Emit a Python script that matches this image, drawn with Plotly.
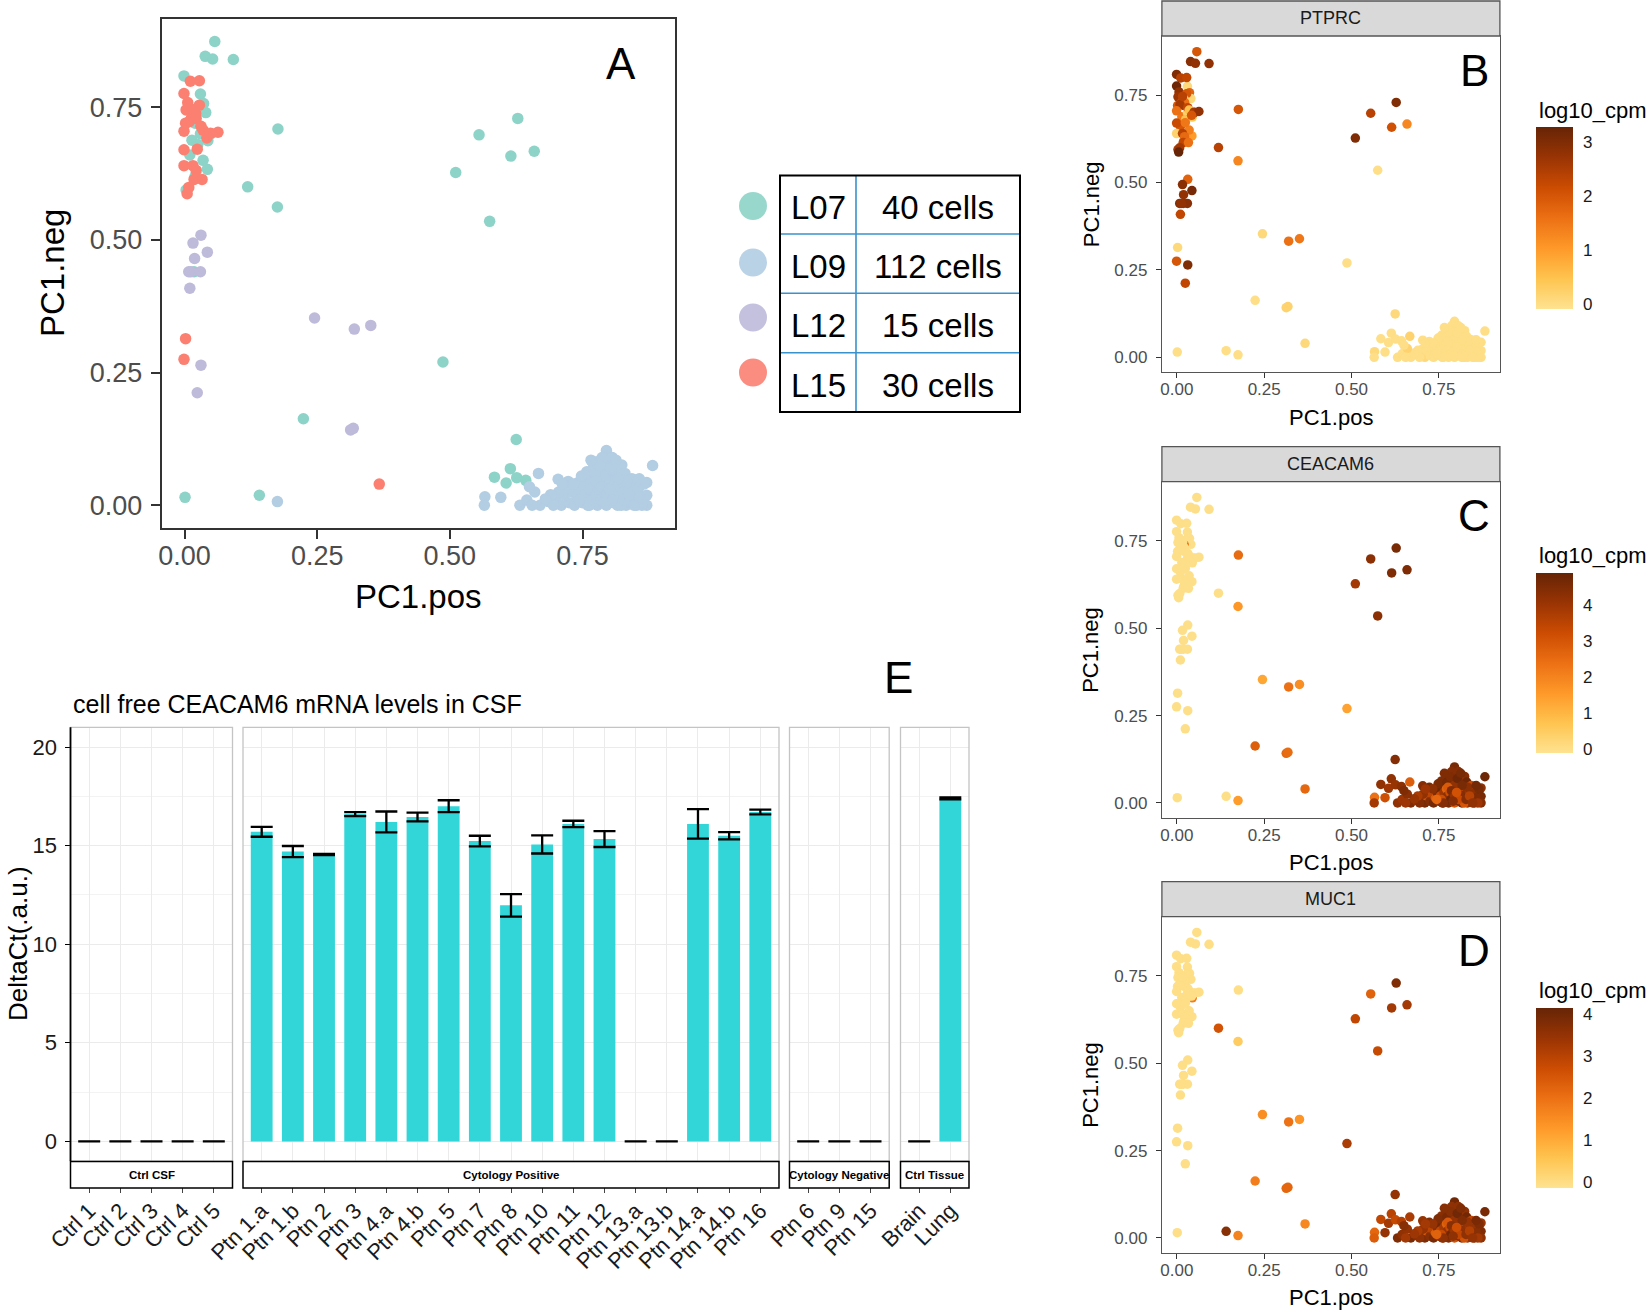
import plotly.graph_objects as go

W, H = 1648, 1310
def X(px): return px / W
def Y(py): return 1 - py / H

FONT = "Liberation Sans, Arial, Helvetica, sans-serif"

# ---------------- data: single cells (PC1.pos, PC1.neg, log10_cpm per gene) ----------------
L07_pos = [0.057, 0.039, 0.053, 0.092, -0.001, 0.030, 0.036, 0.176, 0.014, 0.044,
           0.043, 0.003, 0.119, 0.175, 0.628, 0.555, 0.615, 0.659, 0.511, 0.575,
           0.018, 0.487, 0.224, 0.625, 0.614, 0.584, 0.606, 0.626, 0.643, 0.001,
           0.141, 0.020, 0.030, 0.010, 0.040, 0.020, 0.050, 0.025, 0.035, 0.015]
L07_neg = [0.874, 0.846, 0.841, 0.840, 0.809, 0.775, 0.757, 0.709, 0.688, 0.687,
           0.633, 0.594, 0.600, 0.562, 0.729, 0.698, 0.658, 0.667, 0.627, 0.535,
           0.440, 0.270, 0.163, 0.124, 0.069, 0.053, 0.042, 0.052, 0.047, 0.015,
           0.019, 0.720, 0.700, 0.660, 0.740, 0.620, 0.700, 0.680, 0.650, 0.730]
L07_ptprc = [2.0, 2.9, 2.8, 2.8, 3.0, 0.1, 1.8, 2.0, 1.5, 0.4,
             1.0, 2.5, 2.4, 1.3, 3.0, 2.4, 2.1, 1.3, 3.0, 0.0,
             2.8, 0.0, 0.0, 0.1, 0.0, 0.0, 0.0, 0.0, 0.0, 0.0,
             0.0, 2.5, 0.2, 2.0, 0.1, 1.2, 2.6, 0.5, 1.4, 2.2]
L07_ceacam6 = [0, 0, 0, 0, 0, 0, 0, 2.5, 0, 0,
               0, 0, 0, 1.6, 4.6, 4.3, 4.5, 4.5, 3.9, 4.3,
               0, 1.4, 2.8, 4.4, 4.2, 4.2, 4.0, 4.1, 4.3, 0,
               0, 0, 0, 0, 0, 0, 0, 0, 0, 0]
L07_muc1 = [0, 0, 0, 0, 0, 0, 0, 0, 0, 1.8,
            0, 0, 2.6, 0.4, 3.8, 2.3, 3.3, 3.3, 2.9, 2.8,
            0, 3.2, 1.8, 3.5, 3.0, 2.9, 3.3, 2.8, 3.1, 0,
            3.7, 0, 0, 0, 0, 0, 0, 0, 0, 0]

L09_pos = [0.566, 0.565, 0.596, 0.632, 0.645, 0.667, 0.670, 0.686, 0.704, 0.723,
           0.742, 0.758, 0.777, 0.795, 0.808, 0.824, 0.882, 0.871, 0.852, 0.839,
           0.871, 0.871, 0.852, 0.700, 0.710, 0.715, 0.725, 0.730, 0.735, 0.740,
           0.745, 0.750, 0.752, 0.755, 0.760, 0.762, 0.765, 0.768, 0.770, 0.772,
           0.775, 0.778, 0.780, 0.782, 0.785, 0.787, 0.788, 0.790, 0.792, 0.795,
           0.797, 0.798, 0.800, 0.802, 0.805, 0.806, 0.808, 0.810, 0.812, 0.814,
           0.816, 0.818, 0.820, 0.822, 0.825, 0.827, 0.830, 0.832, 0.835, 0.837,
           0.840, 0.843, 0.845, 0.848, 0.855, 0.858, 0.862, 0.865, 0.720, 0.705,
           0.695, 0.690, 0.680, 0.660, 0.650, 0.655, 0.748, 0.757, 0.763, 0.773,
           0.783, 0.793, 0.803, 0.813, 0.823, 0.833, 0.776, 0.786, 0.796, 0.806,
           0.817, 0.828, 0.838, 0.847, 0.857, 0.766, 0.744, 0.733, 0.712, 0.791,
           0.801, 0.175]
L09_neg = [0.016, 0.000, 0.015, 0.000, 0.010, 0.060, 0.000, 0.007, 0.049, 0.045,
           0.043, 0.063, 0.082, 0.103, 0.082, 0.076, 0.075, 0.043, 0.048, 0.038,
           0.019, 0.000, 0.000, 0.010, 0.000, 0.020, 0.005, 0.025, 0.000, 0.015,
           0.030, 0.005, 0.040, 0.020, 0.000, 0.050, 0.030, 0.010, 0.070, 0.040,
           0.020, 0.000, 0.055, 0.030, 0.010, 0.090, 0.045, 0.065, 0.025, 0.000,
           0.075, 0.040, 0.015, 0.055, 0.030, 0.090, 0.005, 0.045, 0.065, 0.020,
           0.000, 0.035, 0.055, 0.010, 0.045, 0.025, 0.060, 0.000, 0.015, 0.035,
           0.005, 0.050, 0.025, 0.010, 0.030, 0.015, 0.000, 0.040, 0.030, 0.025,
           0.000, 0.020, 0.012, 0.025, 0.035, 0.000, 0.055, 0.010, 0.000, 0.060,
           0.075, 0.050, 0.070, 0.085, 0.000, 0.045, 0.045, 0.035, 0.020, 0.010,
           0.050, 0.010, 0.020, 0.000, 0.050, 0.085, 0.010, 0.040, 0.040, 0.005,
           0.030, 0.007]
L09_ptprc = [0.1, 0, 0, 0, 0, 0.2, 0, 0, 0, 0,
             0, 0, 0, 0, 0, 0, 0, 0, 0, 0,
             0, 0, 0, 0, 0.1, 0, 0, 0, 0, 0,
             0, 0, 0, 0, 0, 0, 0, 0, 0, 0,
             0, 0, 0, 0, 0, 0, 0, 0, 0, 0,
             0, 0, 0, 0, 0, 0, 0, 0, 0, 0,
             0, 0, 0, 0, 0, 0, 0, 0, 0, 0,
             0, 0, 0, 0, 0, 0, 0, 0, 0, 0,
             0, 0, 0, 0.2, 0, 0, 0, 0, 0, 0,
             0, 0, 0, 0, 0, 0, 0, 0, 0, 0,
             0, 0, 0, 0, 0, 0, 0, 0, 0, 0,
             0, 0]
L09_ceacam6 = [2.4, 3.9, 3.2, 4.2, 4.0, 2.8, 4.5, 4.1, 4.4, 4.6,
               3.0, 4.5, 4.7, 4.6, 4.3, 4.4, 4.8, 4.2, 4.5, 3.1,
               4.6, 4.4, 4.7, 4.3, 4.6, 3.0, 4.4, 4.1, 4.7, 2.9,
               4.5, 4.2, 4.8, 3.3, 4.4, 4.6, 4.0, 4.7, 4.5, 2.7,
               4.3, 4.6, 4.1, 3.2, 4.8, 4.4, 4.2, 4.6, 4.5, 3.0,
               4.3, 4.7, 4.1, 4.5, 2.8, 4.4, 4.6, 3.4, 4.2, 4.7,
               4.5, 4.0, 4.3, 4.6, 3.1, 4.4, 4.8, 4.2, 4.5, 4.1,
               4.6, 3.3, 4.4, 4.7, 4.3, 4.5, 4.0, 4.6, 3.5, 4.2,
               4.4, 3.8, 4.1, 4.3, 4.5, 4.0, 4.6, 3.2, 4.4, 4.7,
               4.5, 4.2, 4.8, 4.6, 3.0, 4.3, 2.9, 4.5, 4.1, 3.3,
               4.6, 4.4, 3.6, 4.2, 4.7, 4.5, 2.6, 4.3, 4.0, 4.4,
               3.1, 1.5]
L09_muc1 = [2.2, 2.4, 3.5, 3.8, 3.6, 3.2, 3.9, 3.7, 3.5, 3.8,
            2.6, 3.6, 3.9, 4.0, 3.7, 3.6, 3.9, 3.4, 3.8, 2.7,
            3.8, 3.6, 3.9, 3.5, 3.8, 2.5, 3.7, 3.4, 3.9, 2.4,
            3.7, 3.5, 4.0, 2.9, 3.6, 3.8, 3.3, 3.9, 3.7, 2.3,
            3.5, 3.8, 3.4, 2.8, 4.0, 3.6, 3.5, 3.8, 3.7, 2.6,
            3.6, 3.9, 3.4, 3.7, 2.4, 3.6, 3.8, 3.0, 3.5, 3.9,
            3.7, 3.3, 3.6, 3.8, 2.7, 3.6, 4.0, 3.4, 3.7, 3.4,
            3.8, 2.9, 3.6, 3.9, 3.5, 3.7, 3.3, 3.8, 3.0, 3.5,
            3.6, 3.2, 3.4, 3.5, 3.7, 3.3, 3.8, 2.8, 3.6, 3.9,
            3.7, 3.5, 4.0, 3.8, 2.6, 3.5, 2.5, 3.7, 3.4, 2.9,
            3.8, 3.6, 3.1, 3.5, 3.9, 3.7, 2.3, 3.5, 3.3, 3.6,
            2.7, 1.7]

L12_pos = [0.031, 0.016, 0.043, 0.019, 0.008, 0.030, 0.010, 0.245, 0.320, 0.351,
           0.031, 0.024, 0.313, 0.318, 0.012]
L12_neg = [0.509, 0.494, 0.477, 0.465, 0.440, 0.440, 0.409, 0.353, 0.332, 0.339,
           0.264, 0.212, 0.142, 0.145, 0.440]
L12_ptprc = [1.8, 2.9, 3.1, 2.8, 3.0, 2.9, 2.3, 0.1, 1.6, 1.5, 3.0, 2.3, 0.2, 0.2, 2.8]
L12_ceacam6 = [0, 0, 0, 0, 0, 0, 0, 1.3, 2.4, 1.8, 0, 0, 2.6, 2.5, 0]
L12_muc1 = [0, 0, 0, 0, 0, 0, 0, 1.5, 2.0, 1.4, 0, 0, 2.2, 2.2, 0]

L15_pos = [0.011, 0.028, -0.001, 0.006, 0.028, 0.003, 0.021, 0.013, 0.002, 0.022,
           0.009, 0.031, -0.001, 0.035, 0.049, 0.063, 0.042, -0.001, 0.024, -0.001,
           0.016, 0.022, 0.018, 0.033, 0.008, 0.005, 0.002, -0.001, 0.367, 0.016]
L15_neg = [0.799, 0.800, 0.776, 0.759, 0.754, 0.745, 0.738, 0.729, 0.720, 0.729,
           0.723, 0.714, 0.705, 0.707, 0.701, 0.703, 0.692, 0.670, 0.671, 0.640,
           0.640, 0.631, 0.614, 0.614, 0.599, 0.587, 0.314, 0.275, 0.040, 0.746]
L15_ptprc = [2.4, 2.3, 3.2, 2.8, 2.0, 2.7, 0.3, 2.2, 2.0, 1.6,
             2.6, 2.3, 1.6, 0.5, 2.6, 2.8, 2.0, 2.2, 1.5, 0.2,
             2.4, 1.7, 2.3, 1.6, 2.6, 3.3, 0.1, 2.0, 0.1, 2.4]
L15_ceacam6 = [0, 0, 0, 0, 0, 0, 2.3, 0, 0, 0,
               0, 0, 0, 0, 0, 0, 0, 0, 0, 0,
               0, 0, 0, 0, 0, 0, 0, 0, 2.6, 0]
L15_muc1 = [0, 0, 0, 0, 0, 0, 0, 0, 0, 0,
            0, 0, 0, 0, 0, 0, 0, 0, 0, 0,
            0, 0, 0, 0, 0, 0, 0, 0, 1.6, 0]

samples = ["L07", "L09", "L12", "L15"]
sample_cells = ["40 cells", "112 cells", "15 cells", "30 cells"]
sample_colors = ["#8DD3C7", "#B3CDE3", "#BEBADA", "#FB8072"]

genes = ["PTPRC", "CEACAM6", "MUC1"]
gene_letters = ["B", "C", "D"]
gene_cmin = [-0.09, -0.10, -0.12]
gene_cmax = [3.29, 4.91, 4.16]
gene_ticks = [[0, 1, 2, 3], [0, 1, 2, 3, 4], [0, 1, 2, 3, 4]]

# ---------------- data: panel E (qPCR) ----------------
facets = ["Ctrl CSF", "Cytology Positive", "Cytology Negative", "Ctrl Tissue"]
ctrl_csf = ["Ctrl 1", "Ctrl 2", "Ctrl 3", "Ctrl 4", "Ctrl 5"]
ctrl_csf_val = [0, 0, 0, 0, 0]
ctrl_csf_err = [0, 0, 0, 0, 0]
cyto_pos = ["Ptn 1.a", "Ptn 1.b", "Ptn 2", "Ptn 3", "Ptn 4.a", "Ptn 4.b", "Ptn 5", "Ptn 7",
            "Ptn 8", "Ptn 10", "Ptn 11", "Ptn 12", "Ptn 13.a", "Ptn 13.b", "Ptn 14.a",
            "Ptn 14.b", "Ptn 16"]
cyto_pos_val = [15.7, 14.7, 14.55, 16.6, 16.2, 16.45, 17.0, 15.23, 11.97, 15.06,
                16.1, 15.33, 0, 0, 16.1, 15.5, 16.7]
cyto_pos_err = [0.25, 0.28, 0.03, 0.1, 0.53, 0.22, 0.3, 0.27, 0.57, 0.46,
                0.16, 0.4, 0, 0, 0.75, 0.18, 0.12]
cyto_neg = ["Ptn 6", "Ptn 9", "Ptn 15"]
cyto_neg_val = [0, 0, 0]
cyto_neg_err = [0, 0, 0]
ctrl_tissue = ["Brain", "Lung"]
ctrl_tissue_val = [0, 17.4]
ctrl_tissue_err = [0, 0.05]

# ---------------- figure ----------------
fig = go.Figure()
shapes, anns = [], []

def ann(text, x, y, size, color="#000000", xanchor="center", yanchor="middle", angle=0):
    anns.append(dict(text=text, x=X(x), y=Y(y), xref="paper", yref="paper", showarrow=False,
                     xanchor=xanchor, yanchor=yanchor, textangle=angle,
                     font=dict(size=size, color=color, family=FONT)))

def rect(x0, y0, x1, y1, line="#000", lw=1, fill="rgba(0,0,0,0)", layer="above"):
    shapes.append(dict(type="rect", xref="paper", yref="paper", x0=X(x0), x1=X(x1),
                       y0=Y(y1), y1=Y(y0), line=dict(color=line, width=lw),
                       fillcolor=fill, layer=layer))

def hline(x0, x1, y, color, lw):
    shapes.append(dict(type="line", xref="paper", yref="paper", x0=X(x0), x1=X(x1),
                       y0=Y(y), y1=Y(y), line=dict(color=color, width=lw), layer="above"))

def vline(x, y0, y1, color, lw):
    shapes.append(dict(type="line", xref="paper", yref="paper", x0=X(x), x1=X(x),
                       y0=Y(y0), y1=Y(y1), line=dict(color=color, width=lw), layer="above"))

all_pos = [L07_pos, L09_pos, L12_pos, L15_pos]
all_neg = [L07_neg, L09_neg, L12_neg, L15_neg]
gene_vals = {
    "PTPRC": L07_ptprc + L09_ptprc + L12_ptprc + L15_ptprc,
    "CEACAM6": L07_ceacam6 + L09_ceacam6 + L12_ceacam6 + L15_ceacam6,
    "MUC1": L07_muc1 + L09_muc1 + L12_muc1 + L15_muc1,
}
cat_pos = L07_pos + L09_pos + L12_pos + L15_pos
cat_neg = L07_neg + L09_neg + L12_neg + L15_neg

# Panel A
for s, c, px_, py_ in zip(samples, sample_colors, all_pos, all_neg):
    fig.add_trace(go.Scatter(x=px_, y=py_, mode="markers", name=s,
                             marker=dict(size=11.5, color=c, line=dict(width=0)),
                             xaxis="x", yaxis="y", hoverinfo="skip"))

# Panels B-D
ylscale = [
    [0.0, "#FEE391"], [0.167, "#FEC44F"], [0.333, "#FE9929"], [0.5, "#EC7014"],
    [0.667, "#CC4C02"], [0.833, "#993404"], [1.0, "#662506"]]
bd_plot = [(36.0, 372.3), (481.7, 818.0), (916.7, 1253.0)]
bd_strip = [(1.0, 36.0), (446.7, 481.7), (881.7, 916.7)]
bd_cbar = [(126.7, 308.3), (572.3, 752.7), (1007.3, 1187.7)]
bd_cbtitle = [110, 555.6, 990.6]
bd_letter = [70.5, 515, 950]
BX0, BX1 = 1161.9, 1499.9
CB_X0, CB_W = 1536.2, 36.5
for i, g in enumerate(genes):
    cb0, cb1 = bd_cbar[i]
    fig.add_trace(go.Scatter(
        x=cat_pos, y=cat_neg, mode="markers", name=g,
        xaxis="x%d" % (i + 2), yaxis="y%d" % (i + 2), hoverinfo="skip",
        marker=dict(size=9.5, color=gene_vals[g], colorscale=ylscale,
                    cmin=gene_cmin[i], cmax=gene_cmax[i], line=dict(width=0),
                    showscale=True,
                    colorbar=dict(x=X(CB_X0), xanchor="left", xpad=0,
                                  y=Y((cb0 + cb1) / 2), yanchor="middle", ypad=0,
                                  len=cb1 - cb0, lenmode="pixels",
                                  thickness=CB_W, thicknessmode="pixels",
                                  outlinewidth=0, tickvals=gene_ticks[i],
                                  ticks="outside", ticklen=7, tickcolor="rgba(0,0,0,0)",
                                  tickfont=dict(size=17, color="#1A1A1A", family=FONT)))))
    # white tick marks on both edges of the colour bar (ggplot style)
    for v in gene_ticks[i]:
        ty = cb1 - (v - gene_cmin[i]) / (gene_cmax[i] - gene_cmin[i]) * (cb1 - cb0)
        hline(CB_X0, CB_X0 + 7, ty, "rgba(255,255,255,0.85)", 1)
        hline(CB_X0 + CB_W - 7, CB_X0 + CB_W, ty, "rgba(255,255,255,0.85)", 1)

layout = dict(
    width=W, height=H, margin=dict(l=0, r=0, t=0, b=0, pad=0, autoexpand=False),
    paper_bgcolor="white", plot_bgcolor="white", showlegend=False,
    font=dict(family=FONT, color="#000"),
)

# Panel A axes
layout["xaxis"] = dict(domain=[X(161.7), X(675.4)], range=[-0.043, 0.925], anchor="y",
                       tickvals=[0, 0.25, 0.5, 0.75], ticktext=["0.00", "0.25", "0.50", "0.75"],
                       ticks="outside", ticklen=9, tickwidth=2, tickcolor="#333333",
                       showline=True, mirror=True, linecolor="#333333", linewidth=2,
                       showgrid=False, zeroline=False, ticklabelstandoff=-6,
                       tickfont=dict(size=27, color="#4D4D4D"))
layout["yaxis"] = dict(domain=[Y(528), Y(19)], range=[-0.0428, 0.9163], anchor="x",
                       tickvals=[0, 0.25, 0.5, 0.75], ticktext=["0.00", "0.25", "0.50", "0.75"],
                       ticks="outside", ticklen=9, tickwidth=2, tickcolor="#333333",
                       showline=True, mirror=True, linecolor="#333333", linewidth=2,
                       showgrid=False, zeroline=False, ticklabelstandoff=3,
                       tickfont=dict(size=27, color="#4D4D4D"))
ann("PC1.pos", 418.5, 596, 33)
ann("PC1.neg", 52.5, 273.5, 33, angle=-90)
ann("A", 620.5, 63.5, 44)

# Panels B-D axes
for i, g in enumerate(genes):
    p0, p1 = bd_plot[i]
    layout["xaxis%d" % (i + 2)] = dict(
        domain=[X(BX0), X(BX1)], range=[-0.043, 0.925], anchor="y%d" % (i + 2),
        tickvals=[0, 0.25, 0.5, 0.75], ticktext=["0.00", "0.25", "0.50", "0.75"],
        ticks="outside", ticklen=5, tickwidth=1.2, tickcolor="#333333",
        showline=True, mirror=True, linecolor="#555555", linewidth=1.3,
        showgrid=False, zeroline=False, ticklabelstandoff=-4,
        tickfont=dict(size=17, color="#4D4D4D"))
    layout["yaxis%d" % (i + 2)] = dict(
        domain=[Y(p1), Y(p0)], range=[-0.043, 0.919], anchor="x%d" % (i + 2),
        tickvals=[0, 0.25, 0.5, 0.75], ticktext=["0.00", "0.25", "0.50", "0.75"],
        ticks="outside", ticklen=5, tickwidth=1.2, tickcolor="#333333",
        showline=True, mirror=True, linecolor="#555555", linewidth=1.3,
        showgrid=False, zeroline=False, ticklabelstandoff=5,
        tickfont=dict(size=17, color="#4D4D4D"))
    s0, s1 = bd_strip[i]
    rect(BX0, s0, BX1, s1, line="#555555", lw=1.3, fill="#D9D9D9")
    ann(g, (BX0 + BX1) / 2, (s0 + s1) / 2, 18, color="#1A1A1A")
    ann("PC1.pos", (BX0 + BX1) / 2, p1 + 44.7, 22)
    ann("PC1.neg", 1091, (p0 + p1) / 2, 22, angle=-90)
    ann("log10_cpm", 1536.7, bd_cbtitle[i], 22, xanchor="left")
    ann(gene_letters[i], 1474, bd_letter[i], 44)

# Legend table for panel A
tbl_x0, tbl_x1, tbl_xm = 780, 1020, 856
tbl_rows = [175.5, 234.0, 293.3, 352.7, 412.0]
for yy in tbl_rows[1:-1]:
    hline(tbl_x0, tbl_x1, yy, "#3A92CC", 1.6)
vline(tbl_xm, tbl_rows[0], tbl_rows[-1], "#3A92CC", 1.6)
rect(tbl_x0, tbl_rows[0], tbl_x1, tbl_rows[-1], line="#000000", lw=2)
circ_y = [206, 262.5, 317.5, 372.5]
for k, (s, n, c) in enumerate(zip(samples, sample_cells, sample_colors)):
    cy = circ_y[k]
    shapes.append(dict(type="circle", xref="paper", yref="paper",
                       x0=X(753 - 14), x1=X(753 + 14), y0=Y(cy + 14), y1=Y(cy - 14),
                       fillcolor=c, opacity=0.9, line=dict(width=0), layer="above"))
    ym = (tbl_rows[k] + tbl_rows[k + 1]) / 2 + 3
    ann(s, (tbl_x0 + tbl_xm) / 2, ym, 33)
    ann(n, (tbl_xm + tbl_x1) / 2, ym, 33)

# Panel E
E_top, E_bot = 727.3, 1161.1
E_panels = [(70.5, 232.5), (243.0, 779.0), (789.5, 889.2), (900.5, 969.0)]
E_cats = [ctrl_csf, cyto_pos, cyto_neg, ctrl_tissue]
E_vals = [ctrl_csf_val, cyto_pos_val, cyto_neg_val, ctrl_tissue_val]
E_errs = [ctrl_csf_err, cyto_pos_err, cyto_neg_err, ctrl_tissue_err]
for j in range(4):
    ax = j + 5
    fig.add_trace(go.Bar(
        x=E_cats[j], y=E_vals[j], width=0.7, xaxis="x%d" % ax, yaxis="y5",
        marker=dict(color="#33D6D8", line=dict(width=0)), hoverinfo="skip",
        error_y=dict(type="data", array=E_errs[j], visible=True, color="#000000",
                     thickness=2.3, width=11)))
    a0, a1 = E_panels[j]
    n = len(E_cats[j])
    layout["xaxis%d" % ax] = dict(
        domain=[X(a0), X(a1)], anchor="y5", type="category",
        categoryorder="array", categoryarray=E_cats[j], range=[-0.6, n - 0.4],
        showgrid=True, gridcolor="#EBEBEB", gridwidth=1.1, zeroline=False,
        showline=False, ticks="outside", ticklen=31, tickwidth=1, tickcolor="#444444",
        ticklabelstandoff=-4,
        tickangle=-45, tickfont=dict(size=22, color="#1A1A1A"))
    rect(a0, E_top, a1, E_bot, line="#C4C4C4", lw=1.3)
    rect(a0, 1161.5, a1, 1188.0, line="#000000", lw=1.5, fill="#FFFFFF")
    ann("<b>%s</b>" % facets[j], (a0 + a1) / 2, 1174.7, 11.5)

layout["yaxis5"] = dict(
    domain=[Y(E_bot), Y(E_top)], range=[-1, 21], anchor="x5",
    tickvals=[0, 5, 10, 15, 20], ticks="outside", ticklen=5, tickwidth=1.2,
    tickcolor="#000000", showline=False, zeroline=False,
    showgrid=True, gridcolor="#EBEBEB", gridwidth=1.1,
    minor=dict(tickvals=[2.5, 7.5, 12.5, 17.5], showgrid=True,
               gridcolor="#F3F3F3", gridwidth=0.7, ticks=""),
    ticklabelstandoff=3, tickfont=dict(size=22, color="#1A1A1A"))
vline(70.5, E_top, E_bot, "#000000", 1.8)
ann("cell free CEACAM6 mRNA levels in CSF", 71.4, 704, 25, xanchor="left")
ann("DeltaCt(.a.u.)", 18, 944, 26, angle=-90)
ann("E", 898, 677, 44)

layout["shapes"] = shapes
layout["annotations"] = anns
fig.update_layout(**layout)

fig.write_html("out.html", config={"displayModeBar": False},
               post_script="document.body.style.margin='0px';document.body.style.overflow='hidden';")
